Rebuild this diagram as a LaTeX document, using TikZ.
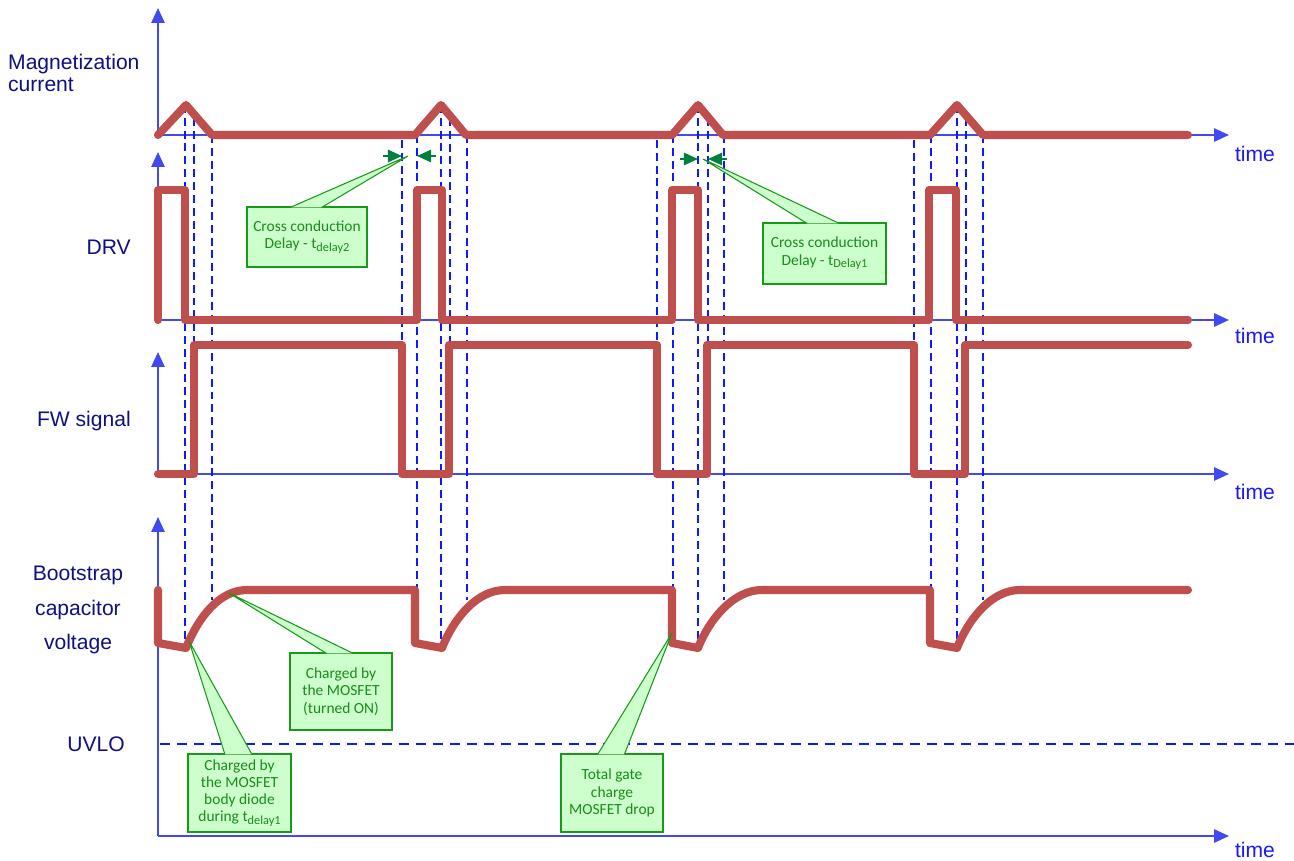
\documentclass[tikz,border=0pt]{standalone}
\usepackage{fontspec}
\setmainfont{Liberation Sans}
\newfontfamily\callfont{Carlito}
\usetikzlibrary{arrows.meta,calc,positioning}
\definecolor{wavered}{rgb}{0.75,0.31,0.30}
\definecolor{axisblue}{rgb}{0.25,0.29,0.94}
\definecolor{dashblue}{rgb}{0.05,0.1,1}
\definecolor{labelnavy}{rgb}{0.06,0.06,0.5}
\definecolor{timeblue}{rgb}{0.1,0.1,0.95}
\definecolor{calloutfill}{rgb}{0.8,1,0.8}
\definecolor{calloutdraw}{rgb}{0.1,0.6,0.1}
\definecolor{callouttext}{rgb}{0.1,0.55,0.1}
\definecolor{delaygreen}{rgb}{0,0.5,0.24}
\newcommand{\lowtext}[1]{\raisebox{-0.4ex}{\fontsize{7}{7}\selectfont #1}}
\tikzset{
  axis/.style={
    draw=axisblue,
    line width=1.3pt,
    -{Triangle[length=8.5pt,width=7.5pt]}
  },
  wave/.style={
    draw=wavered,
    line width=4.6pt,
    line join=round,
    line cap=round
  },
  marker/.style={
    draw=dashblue,
    line width=1.1pt,
    dash pattern=on 4.5pt off 2.8pt
  },
  uvlo/.style={
    draw=dashblue,
    line width=1.1pt,
    dash pattern=on 5.7pt off 4pt
  },
  sig/.style={
    text=labelnavy,
    align=center,
    font=\fontsize{12}{12}\selectfont
  },
  timelbl/.style={
    text=timeblue,
    font=\fontsize{12}{12}\selectfont
  },
  callout/.style={
    fill=calloutfill,
    draw=calloutdraw,
    line width=0.6pt,
    text=callouttext,
    align=center,
    inner sep=0pt,
    font=\callfont\fontsize{8.8}{9.8}\selectfont
  },
  pointer/.style={
    fill=calloutfill,
    draw=calloutdraw,
    line width=0.6pt,
    line join=miter
  },
  delay/.style={
    draw=delaygreen,
    line width=1pt,
    -{Triangle[length=8pt,width=7pt]}
  }
}
\begin{document}
\begin{tikzpicture}[x=0.02cm,y=-0.02cm]
\useasboundingbox (0,0) rectangle (1294,861);
\foreach \y/\top in {135/8,320/152,474/352,836/517}{
  \draw[axis] (158,\y) -- (158,\top);
  \draw[axis] (158,\y) -- (1229,\y);
}
\draw[uvlo] (160,744) -- (1294,744);
\draw[marker] (185,105) -- (185,648);
\draw[marker] (194,118) -- (194,474);
\draw[marker] (212,135) -- (212,600);
\foreach \xa/\xb/\xc/\xd/\xe in {402/417/441/450/467,657/673/698/708/724,914/931/957/966/983}{
  \draw[marker] (\xa,140) -- (\xa,474);
  \draw[marker] (\xb,135) -- (\xb,590);
  \draw[marker] (\xc,105) -- (\xc,648);
  \draw[marker] (\xd,118) -- (\xd,474);
  \draw[marker] (\xe,135) -- (\xe,600);
}
\draw[wave] (158,135) -- (186,105) -- (212,135) -- (415,135) -- (441,105) -- (466,135)
  -- (672,135) -- (698,105) -- (723,135) -- (930,135) -- (957,105) -- (983,135) -- (1188,135);
\draw[wave] (158,320) -- (158,190) -- (185,190) -- (185,320) -- (417,320) -- (417,190)
  -- (442,190) -- (442,320) -- (672,320) -- (672,190) -- (698,190) -- (698,320)
  -- (929,320) -- (929,190) -- (956,190) -- (956,320) -- (1188,320);
\draw[wave] (158,474) -- (194,474) -- (194,345) -- (402,345) -- (402,474) -- (449,474)
  -- (449,345) -- (657,345) -- (657,474) -- (707,474) -- (707,345) -- (914,345)
  -- (914,474) -- (965,474) -- (965,345) -- (1188,345);
\draw[wave] (158,590) -- (158,643) -- (186,648) .. controls +(12,-30) and +(-28,0) .. (247,590)
  -- (415,590) -- (415,643) -- (442,648) .. controls +(12,-30) and +(-28,0) .. (505,590)
  -- (672,590) -- (672,643) -- (698,648) .. controls +(12,-30) and +(-28,0) .. (762,590)
  -- (930,590) -- (930,643) -- (957,648) .. controls +(12,-30) and +(-28,0) .. (1020,590)
  -- (1188,590);
\coordinate (d2l) at (383,156);
\coordinate (d2m) at (402,156);
\coordinate (d2n) at (417,156);
\coordinate (d2r) at (436,156);
\coordinate (d1l) at (680,159);
\coordinate (d1m) at (698,159);
\coordinate (d1n) at (708,159);
\coordinate (d1r) at (727,159);
\draw[delay] (d2l) -- (d2m);
\draw[delay] (d2r) -- (d2n);
\draw[delay] (d1l) -- (d1m);
\draw[delay] (d1r) -- (d1n);
\coordinate (tp1) at (408,156);
\coordinate (tp2) at (703,159);
\coordinate (tp3) at (229,593);
\coordinate (tp4) at (189,641);
\coordinate (tp5) at (672,633);
\node[callout,minimum width=2.4cm,minimum height=1.2cm] (cb1) at (307,237) {Cross conduction\\Delay - t\lowtext{delay2}};
\node[callout,minimum width=2.46cm,minimum height=1.22cm] (cb2) at (824.5,253.5) {Cross conduction\\Delay - t\lowtext{Delay1}};
\node[callout,minimum width=2.04cm,minimum height=1.54cm] (cb3) at (341,691.5) {Charged by\\the MOSFET\\(turned ON)};
\node[callout,minimum width=2.06cm,minimum height=1.56cm] (cb4) at (239.5,793) {Charged by\\the MOSFET\\body diode\\during t\lowtext{delay1}};
\node[callout,minimum width=2.04cm,minimum height=1.56cm] (cb5) at (612,793) {Total gate\\charge\\MOSFET drop};
\foreach \b/\t in {cb1/tp1,cb2/tp2,cb3/tp3,cb4/tp4,cb5/tp5}{
  \filldraw[pointer] ($(\b.north west)!.36!(\b.north east)+(0,1)$) -- (\t) -- ($(\b.north west)!.62!(\b.north east)+(0,1)$);
}
\node[sig,align=left,anchor=west] (magn) at (2,73) {Magnetization\\current};
\node[sig,anchor=east] (drv) at (137,247) {DRV};
\node[sig,anchor=east] (fw) at (137,421) {FW signal};
\node[sig,font=\fontsize{12}{19.8}\selectfont] (boot) at (78,610) {Bootstrap\\capacitor\\voltage};
\node[sig] (uv) at (96,744) {UVLO};
\node[timelbl] (t1) at (1255,154) {time};
\node[timelbl] (t2) at (1255,336) {time};
\node[timelbl] (t3) at (1255,492) {time};
\node[timelbl] (t4) at (1255,850) {time};
\end{tikzpicture}
\end{document}
